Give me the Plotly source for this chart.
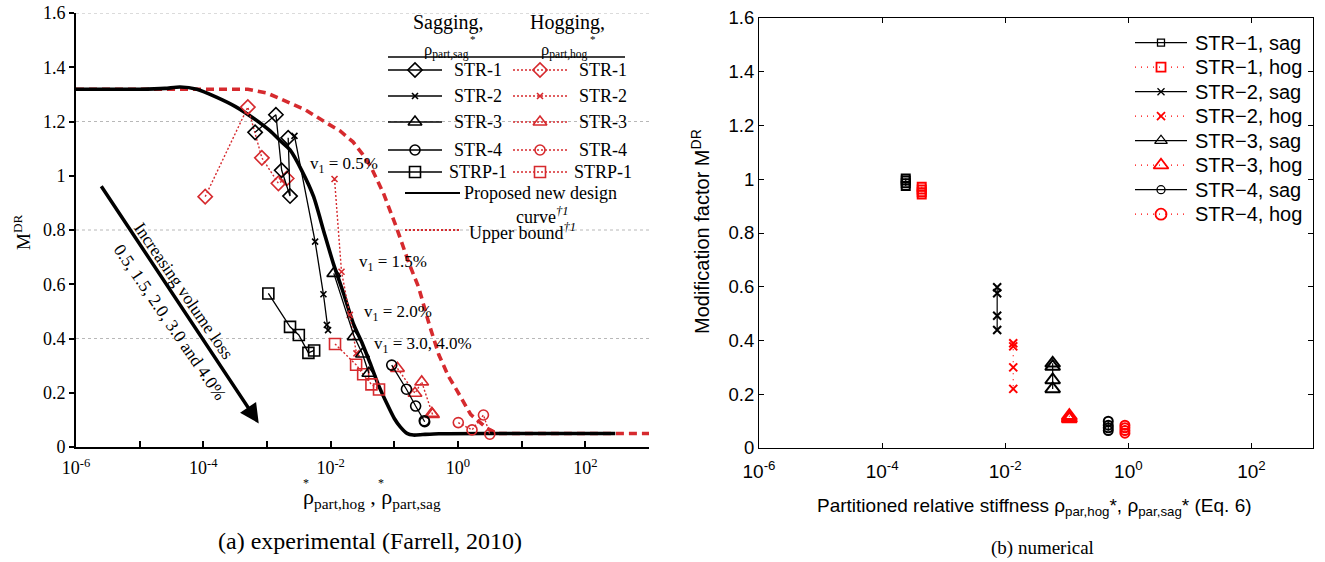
import plotly.graph_objects as go

W, H = 1325, 562
SERIF = "Liberation Serif, Times New Roman, serif"
SANS = "Liberation Sans, Arial, sans-serif"
RED_A = "#d62a2e"
RED_B = "#ff0000"

# ---------------- (a) experimental (Farrell, 2010) ----------------
sag_str1_x = [6.5e-4, 1.38e-3, 1.7e-3, 2.3e-3, 2.15e-3]
sag_str1_y = [1.16, 1.225, 1.02, 0.925, 1.14]
sag_str2_x = [2.7e-3, 5.7e-3, 7.7e-3, 8.7e-3, 9.1e-3]
sag_str2_y = [1.147, 0.757, 0.563, 0.45, 0.431]
sag_str3_x = [0.0112, 0.0234, 0.0316, 0.0398]
sag_str3_y = [0.64, 0.407, 0.343, 0.272]
sag_str4_x = [0.091, 0.155, 0.216, 0.295, 0.30]
sag_str4_y = [0.302, 0.213, 0.151, 0.097, 0.093]
sag_strp1_x = [1.05e-3, 2.3e-3, 3.16e-3, 4.47e-3, 5.5e-3]
sag_strp1_y = [0.566, 0.443, 0.413, 0.347, 0.356]

hog_str1_x = [1.07e-4, 5.0e-4, 8.3e-4, 1.51e-3, 2.04e-3]
hog_str1_y = [0.923, 1.253, 1.066, 0.972, 0.99]
hog_str2_x = [0.0115, 0.0148, 0.020, 0.0254]
hog_str2_y = [0.988, 0.646, 0.487, 0.345]
hog_str3_x = [0.112, 0.211, 0.269, 0.389, 0.398]
hog_str3_y = [0.29, 0.198, 0.24, 0.124, 0.12]
hog_str4_x = [1.01, 1.66, 2.51, 3.16]
hog_str4_y = [0.09, 0.063, 0.118, 0.047]
hog_strp1_x = [0.0117, 0.0251, 0.0324, 0.0437, 0.0575]
hog_strp1_y = [0.38, 0.303, 0.268, 0.231, 0.212]

design_x = [1e-6, 1e-5, 2.5e-5, 4.3e-5, 7.9e-5, 1.6e-4, 3.2e-4, 6.3e-4, 1.12e-3, 1.6e-3,
            2.3e-3, 3.5e-3, 5.4e-3, 7.9e-3, 0.011, 0.016, 0.0226, 0.0316, 0.0417, 0.056,
            0.076, 0.1, 0.123, 0.158, 0.2, 0.28, 0.5, 3.2, 295]
design_y = [1.319, 1.319, 1.322, 1.327, 1.319, 1.29, 1.255, 1.21, 1.165, 1.13,
            1.095, 1.02, 0.923, 0.79, 0.677, 0.565, 0.456, 0.38, 0.309, 0.23,
            0.161, 0.105, 0.075, 0.05, 0.044, 0.046, 0.049, 0.05, 0.05]
upper_x = [1e-6, 5e-4, 1e-3, 2e-3, 4e-3, 7.9e-3, 0.0141, 0.0224, 0.0316, 0.0427, 0.0676,
           0.107, 0.17, 0.24, 0.355, 0.5, 0.71, 0.955, 1.58, 2.82, 4.07, 1000]
upper_y = [1.319, 1.319, 1.305, 1.275, 1.243, 1.2, 1.165, 1.125, 1.08, 1.034, 0.935,
           0.812, 0.677, 0.59, 0.45, 0.34, 0.26, 0.21, 0.12, 0.07, 0.05, 0.05]

series_names_a = ["STR-1", "STR-2", "STR-3", "STR-4", "STRP-1"]
symbols_a = ["diamond-open", "x-thin-open", "triangle-up-open", "circle-open", "square-open"]
sizes_a = [11, 6, 12, 10, 11]
sag_a = [(sag_str1_x, sag_str1_y), (sag_str2_x, sag_str2_y), (sag_str3_x, sag_str3_y),
         (sag_str4_x, sag_str4_y), (sag_strp1_x, sag_strp1_y)]
hog_a = [(hog_str1_x, hog_str1_y), (hog_str2_x, hog_str2_y), (hog_str3_x, hog_str3_y),
         (hog_str4_x, hog_str4_y), (hog_strp1_x, hog_strp1_y)]

# ---------------- (b) numerical ----------------
num_names = ["STR\u22121, sag", "STR\u22121, hog", "STR\u22122, sag", "STR\u22122, hog",
             "STR\u22123, sag", "STR\u22123, hog", "STR\u22124, sag", "STR\u22124, hog"]
num_x = [2.42e-4, 4.4e-4, 7.4e-3, 0.0135, 0.059, 0.11, 0.472, 0.88]
num_y = [
    [1.003, 0.995, 0.985, 0.975],
    [0.972, 0.962, 0.952, 0.943],
    [0.598, 0.576, 0.492, 0.439],
    [0.39, 0.378, 0.30, 0.22],
    [0.315, 0.303, 0.253, 0.22],
    [0.12, 0.115, 0.11, 0.108],
    [0.10, 0.085, 0.075, 0.065],
    [0.085, 0.075, 0.065, 0.055],
]
num_symbols = ["square-open", "square-open", "x-thin-open", "x-thin-open",
               "triangle-up-open", "triangle-up-open", "circle-open", "circle-open"]
num_sizes = [8, 8, 8, 8, 13, 13, 9, 9]
leg_sizes = [7, 9, 7, 8, 11, 13, 8, 11]

fig = go.Figure()

# upper bound & design curve
fig.add_trace(go.Scatter(x=upper_x, y=upper_y, mode="lines", xaxis="x", yaxis="y",
                         line=dict(color=RED_A, width=3.6, dash="8px,5px"), showlegend=False))
fig.add_trace(go.Scatter(x=design_x, y=design_y, mode="lines", xaxis="x", yaxis="y",
                         line=dict(color="black", width=3.6, shape="spline", smoothing=0.6),
                         showlegend=False))
for (xs, ys), sym, sz in zip(hog_a, symbols_a, sizes_a):
    fig.add_trace(go.Scatter(x=xs, y=ys, mode="lines+markers", xaxis="x", yaxis="y",
                             line=dict(color=RED_A, width=1.4, dash="2px,2px"),
                             marker=dict(symbol=sym, size=sz, color=RED_A,
                                         line=dict(color=RED_A, width=1.6)),
                             showlegend=False))
for (xs, ys), sym, sz in zip(sag_a, symbols_a, sizes_a):
    fig.add_trace(go.Scatter(x=xs, y=ys, mode="lines+markers", xaxis="x", yaxis="y",
                             line=dict(color="black", width=1.3),
                             marker=dict(symbol=sym, size=sz, color="black",
                                         line=dict(color="black", width=1.6)),
                             showlegend=False))

# numerical plot
for i, name in enumerate(num_names):
    hog = i % 2 == 1
    col = RED_B if hog else "black"
    fig.add_trace(go.Scatter(x=[num_x[i]] * len(num_y[i]), y=num_y[i], mode="lines+markers",
                             xaxis="x2", yaxis="y2", name=name,
                             line=dict(color=col, width=1.2, dash="1px,5px" if hog else "solid"),
                             marker=dict(symbol=num_symbols[i], size=num_sizes[i], color=col,
                                         line=dict(color=col, width=2)),
                             showlegend=False))

# ---------- hand-drawn legends on a pixel overlay axis ----------
def ov(**kw):
    return go.Scatter(xaxis="x3", yaxis="y3", showlegend=False, hoverinfo="skip", **kw)

rows_a = [70, 96, 122, 150, 172]
for r, sym, sz in zip(rows_a, symbols_a, sizes_a):
    fig.add_trace(ov(x=[388, 442], y=[r, r], mode="lines", line=dict(color="black", width=1.4)))
    fig.add_trace(ov(x=[415], y=[r], mode="markers",
                     marker=dict(symbol=sym, size=sz, color="black", line=dict(color="black", width=1.6))))
    fig.add_trace(ov(x=[513, 567], y=[r, r], mode="lines", line=dict(color=RED_A, width=1.4, dash="2px,2px")))
    fig.add_trace(ov(x=[540], y=[r], mode="markers",
                     marker=dict(symbol=sym, size=sz, color=RED_A, line=dict(color=RED_A, width=1.6))))
fig.add_trace(ov(x=[405, 460], y=[193, 193], mode="lines", line=dict(color="black", width=2)))
fig.add_trace(ov(x=[405, 460], y=[230, 230], mode="lines", line=dict(color=RED_A, width=2, dash="2px,2px")))

rows_b = [42.7 + 24.5 * i for i in range(8)]
for i, r in enumerate(rows_b):
    hog = i % 2 == 1
    col = RED_B if hog else "black"
    fig.add_trace(ov(x=[1135, 1187], y=[r, r], mode="lines",
                     line=dict(color=col, width=1.3, dash="1px,5px" if hog else "solid")))
    fig.add_trace(ov(x=[1161], y=[r], mode="markers",
                     marker=dict(symbol=num_symbols[i], size=leg_sizes[i], color=col,
                                 line=dict(color=col, width=1.8 if hog else 1.3))))

ann = []
def txt(x, y, t, size, font=SERIF, xa="center", ya="middle", angle=0, color="black"):
    ann.append(dict(x=x, y=y, xref="x3", yref="y3", text=t, showarrow=False, xanchor=xa,
                    yanchor=ya, textangle=angle, font=dict(family=font, size=size, color=color)))

# left legend texts
txt(448, 22, "Sagging,", 20)
txt(567, 22, "Hogging,", 20)
txt(473, 39, "*", 11)
txt(593, 39, "*", 11)
txt(446, 50, "\u03c1<sub>part,sag</sub>", 16.5)
txt(564, 50, "\u03c1<sub>part,hog</sub>", 16.5)
for r, nm in zip(rows_a, series_names_a):
    txt(478, r, nm, 18)
    txt(603, r, nm, 18)
txt(462, 193, "Proposed new design", 18, xa="left")
txt(542, 215, "curve<sup><i>\u20201</i></sup>", 18)
txt(467, 231, "Upper bound<sup><i>\u20201</i></sup>", 18, xa="left")

# right legend texts
for r, nm in zip(rows_b, num_names):
    txt(1193, r, nm, 20, font=SANS, xa="left")

# left annotations
txt(308, 165, "v<sub>1</sub> = 0.5%", 17, xa="left")
txt(357, 263, "v<sub>1</sub> = 1.5%", 17, xa="left")
txt(362, 313, "v<sub>1</sub> = 2.0%", 17, xa="left")
txt(372, 345, "v<sub>1</sub> = 3.0, 4.0%", 17, xa="left")
txt(184, 291, "Increasing volume loss", 17.5, angle=55.5)
txt(170, 322, "0.5, 1.5, 2.0, 3.0 and 4.0%", 17.5, angle=55.5)

# axis titles & captions
txt(22, 232, "M<sup>DR</sup>", 19, angle=-90)
txt(372, 498, "\u03c1<sub>part,hog</sub> , \u03c1<sub>part,sag</sub>", 22)
txt(306, 483, "*", 12)
txt(381, 483, "*", 12)
txt(370, 541, "(a) experimental (Farrell, 2010)", 24)
txt(700, 232, "Modification factor M<sup>DR</sup>", 20, font=SANS, angle=-90)
txt(1034, 507, "Partitioned relative stiffness \u03c1<sub>par,hog</sub>*, \u03c1<sub>par,sag</sub>* (Eq. 6)",
    19, font=SANS)
txt(1042, 548, "(b) numerical", 19)

# volume-loss arrow (data coordinates, log10 units on x)
ann.append(dict(x=-3.13, y=0.087, xref="x", yref="y", ax=-5.65, ay=0.978, axref="x", ayref="y",
                showarrow=True, arrowhead=2, arrowsize=1.1, arrowwidth=3.5, arrowcolor="black",
                text=" "))

# gridlines in the left panel
shapes = []
for gy in [0.4, 0.8, 1.2, 1.6]:
    shapes.append(dict(type="line", xref="x domain", yref="y", x0=0, x1=1, y0=gy, y1=gy,
                       line=dict(color="#b8b8b8", width=1, dash="dot"), layer="below"))
shapes.append(dict(type="line", xref="x3", yref="y3", x0=388, x1=625, y0=57, y1=57,
                   line=dict(color="black", width=1.3)))

dec_even = [10.0 ** k for k in range(-6, 3, 2)]
dec_even_txt = ["10<sup>%d</sup>" % k for k in range(-6, 3, 2)]
dec_odd = [10.0 ** k for k in range(-5, 4, 2)]

fig.update_layout(
    width=W, height=H, margin=dict(l=0, r=0, t=0, b=0, autoexpand=False),
    paper_bgcolor="white", plot_bgcolor="rgba(0,0,0,0)", showlegend=False,
    xaxis=dict(type="log", range=[-6, 3], domain=[76 / W, 649 / W], anchor="y", automargin=False,
               tickvals=dec_even, ticktext=dec_even_txt, ticks="inside", ticklen=6, tickwidth=1.5,
               tickcolor="black", showline=True, linecolor="black", linewidth=1.6,
               ticklabelstandoff=4,
               minor=dict(tickvals=dec_odd, ticks="inside", ticklen=6, tickwidth=1.5,
                          tickcolor="black", showgrid=False),
               showgrid=False, zeroline=False, tickfont=dict(family=SERIF, size=18, color="black")),
    yaxis=dict(range=[0, 1.6], domain=[1 - 447 / H, 1 - 13 / H], anchor="x", automargin=False,
               tick0=0, dtick=0.2, ticks="outside", ticklen=5, tickwidth=1.5, tickcolor="black",
               showline=True, linecolor="black", linewidth=1.6, showgrid=False, zeroline=False,
               tickfont=dict(family=SERIF, size=18, color="black")),
    xaxis2=dict(type="log", range=[-6, 3], domain=[759 / W, 1313 / W], anchor="y2", automargin=False,
                tickvals=dec_even, ticktext=dec_even_txt, ticks="inside", ticklen=5, tickwidth=1,
                tickcolor="black", showline=True, mirror="allticks", linecolor="black",
                linewidth=1.2, showgrid=False, zeroline=False, ticklabelstandoff=6,
                tickfont=dict(family=SANS, size=19, color="black")),
    yaxis2=dict(range=[0, 1.6], domain=[1 - 448 / H, 1 - 18 / H], anchor="x2", automargin=False,
                tick0=0, dtick=0.2, ticks="inside", ticklen=5, tickwidth=1, tickcolor="black",
                showline=True, mirror="allticks", linecolor="black", linewidth=1.2,
                showgrid=False, zeroline=False, tickfont=dict(family=SANS, size=18.5, color="black")),
    xaxis3=dict(domain=[0, 1], range=[0, W], visible=False, anchor="y3", fixedrange=True,
                automargin=False),
    yaxis3=dict(domain=[0, 1], range=[H, 0], visible=False, anchor="x3", fixedrange=True,
                automargin=False),
    annotations=ann, shapes=shapes,
)

fig.write_html("out.html")
